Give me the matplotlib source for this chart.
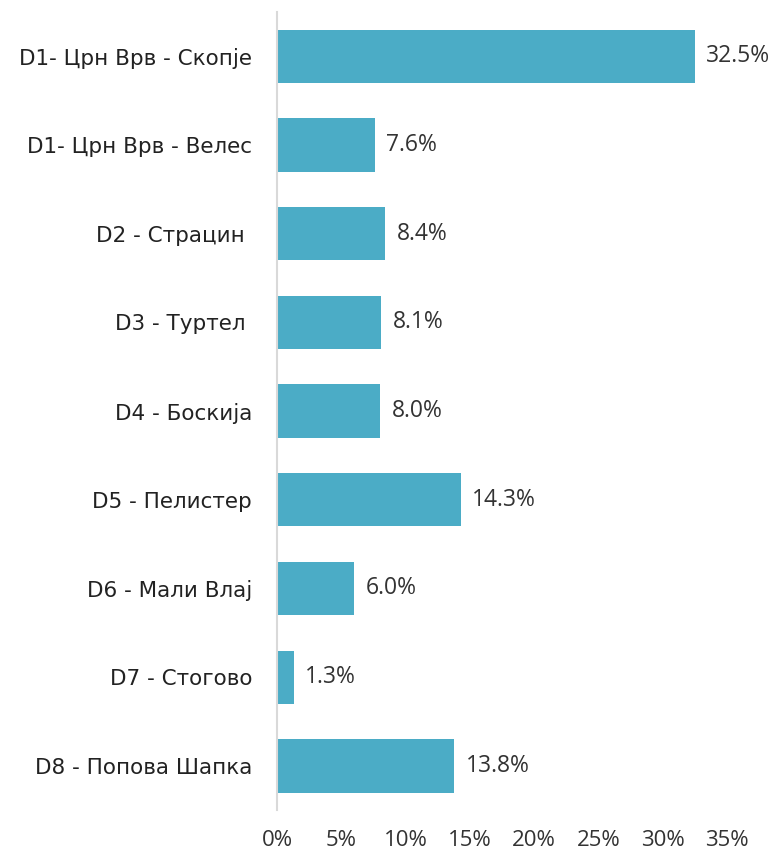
import matplotlib
matplotlib.use("Agg")
import matplotlib.pyplot as plt
from matplotlib.ticker import FuncFormatter

categories = ["D1- Црн Врв - Скопје", "D1- Црн Врв - Велес", "D2 - Страцин ", "D3 - Туртел ",
              "D4 - Боскија", "D5 - Пелистер", "D6 - Мали Влај", "D7 - Стогово", "D8 - Попова Шапка"]
values = [32.5, 7.6, 8.4, 8.1, 8.0, 14.3, 6.0, 1.3, 13.8]
xticks = [0, 5, 10, 15, 20, 25, 30, 35]

color = "#4BACC6"
fig = plt.figure(figsize=(7.77, 8.52), dpi=100)
ax = fig.add_axes([0.3565, 0.049, 0.579, 0.937])
y = list(range(len(categories)))
ax.barh(y, values, height=0.6, color=color)
ax.set_ylim(len(categories) - 0.5, -0.5)
ax.set_xlim(0, 35)
ax.set_yticks(y)
ax.set_yticklabels(categories, fontsize=15.5, family=["DejaVu Sans"], color="#222222")
ax.set_xticks(xticks)
ax.xaxis.set_major_formatter(FuncFormatter(lambda v, p: f"{int(v)}%"))
for lab in ax.get_xticklabels():
    lab.set_fontsize(16)
    lab.set_family("Open Sans")
    lab.set_color("#333333")
ax.tick_params(axis="both", length=0)
ax.tick_params(axis="y", pad=18)
ax.tick_params(axis="x", pad=14)
for s in ["top", "right", "bottom"]:
    ax.spines[s].set_visible(False)
ax.spines["left"].set_color("#D9D9D9")
ax.spines["left"].set_linewidth(1.5)
for yi, v in zip(y, values):
    ax.text(v + 0.9, yi, f"{v:.1f}%", va="center", ha="left", fontsize=16.5,
            family="Open Sans", color="#333333")
fig.savefig("out.png", dpi=100)
